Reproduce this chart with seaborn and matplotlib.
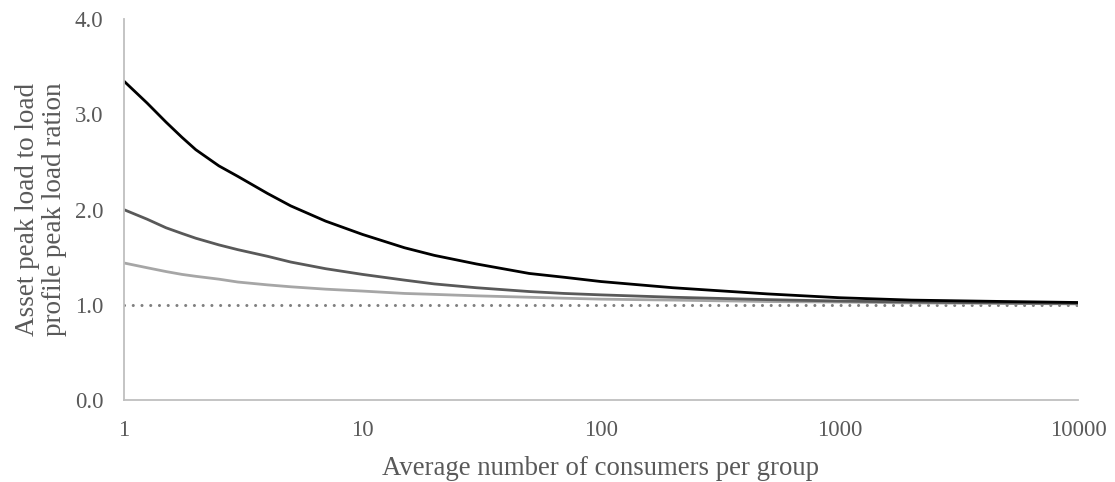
import numpy as np
import pandas as pd
import seaborn as sns
import matplotlib.pyplot as plt
from matplotlib.ticker import FixedLocator, FixedFormatter, NullLocator

# Average number of consumers per group
consumers = [1, 1.25, 1.5, 1.75, 2, 2.5, 3, 4, 5, 7, 10, 15, 20, 30, 50, 70, 100,
             200, 500, 1000, 2000, 5000, 10000]

# Asset peak load / load profile peak load for three asset types
ratio_high = [3.35, 3.12, 2.92, 2.76, 2.63, 2.46, 2.35, 2.17, 2.04, 1.88, 1.74,
              1.60, 1.52, 1.43, 1.33, 1.29, 1.245, 1.18, 1.115, 1.075, 1.05,
              1.035, 1.025]
ratio_mid = [2.00, 1.90, 1.81, 1.75, 1.70, 1.63, 1.58, 1.51, 1.45, 1.38, 1.32,
             1.26, 1.22, 1.18, 1.14, 1.12, 1.105, 1.08, 1.055, 1.04, 1.03,
             1.02, 1.015]
ratio_low = [1.44, 1.39, 1.35, 1.32, 1.30, 1.27, 1.24, 1.21, 1.19, 1.165, 1.145,
             1.12, 1.11, 1.095, 1.08, 1.07, 1.06, 1.05, 1.035, 1.03, 1.02,
             1.015, 1.01]
ratio_base = [1.0] * len(consumers)

x_ticks = [1, 10, 100, 1000, 10000]
x_tick_labels = ["1", "10", "100", "1000", "10000"]
y_ticks = [0.0, 1.0, 2.0, 3.0, 4.0]
y_tick_labels = ["0.0", "1.0", "2.0", "3.0", "4.0"]

series_names = ["high", "mid", "low"]
series_values = [ratio_high, ratio_mid, ratio_low]
series_colors = {"high": "#000000", "mid": "#595959", "low": "#a6a6a6"}

df = pd.DataFrame({
    "consumers": np.tile(consumers, len(series_names)),
    "ratio": np.concatenate(series_values),
    "series": np.repeat(series_names, len(consumers)),
})
base = pd.DataFrame({"consumers": consumers, "ratio": ratio_base})

sns.set_theme(style="white")
plt.rcParams["font.family"] = ["Liberation Serif", "DejaVu Serif"]
text_color = "#595959"

fig = plt.figure(figsize=(11.15, 4.82), dpi=100)
ax = fig.add_axes([0.1112, 0.170, 0.8556, 0.790])

sns.lineplot(data=base, x="consumers", y="ratio", ax=ax, color="#7f7f7f",
             linewidth=2.2, linestyle=(0, (0.01, 2.85)),
             dash_capstyle="round", legend=False, zorder=1)
sns.lineplot(data=df, x="consumers", y="ratio", hue="series",
             hue_order=series_names[::-1], palette=series_colors,
             linewidth=2.0, ax=ax, legend=False, zorder=2)

ax.set_xscale("log")
ax.set_xlim(1, 10000)
ax.set_ylim(0, 4.0)
ax.xaxis.set_major_locator(FixedLocator(x_ticks))
ax.xaxis.set_major_formatter(FixedFormatter(x_tick_labels))
ax.xaxis.set_minor_locator(NullLocator())
ax.set_yticks(y_ticks)
ax.set_yticklabels(y_tick_labels)

ax.tick_params(axis="both", length=0, labelsize=16.5, labelcolor=text_color)
ax.tick_params(axis="y", pad=15)
ax.tick_params(axis="x", pad=14)

ax.set_xlabel("Average number of consumers per group", fontsize=19.3,
              color=text_color)
ax.set_ylabel("Asset peak load to load\nprofile peak load ration", fontsize=19.5,
              color=text_color, linespacing=1.1)
ax.xaxis.set_label_coords(0.5, -0.148)
ax.yaxis.set_label_coords(-0.060, 0.5)

for side in ["top", "right"]:
    ax.spines[side].set_visible(False)
for side in ["left", "bottom"]:
    ax.spines[side].set_color("#bfbfbf")
    ax.spines[side].set_linewidth(1.3)

ax.grid(False)
fig.savefig("out.png", dpi=100)
